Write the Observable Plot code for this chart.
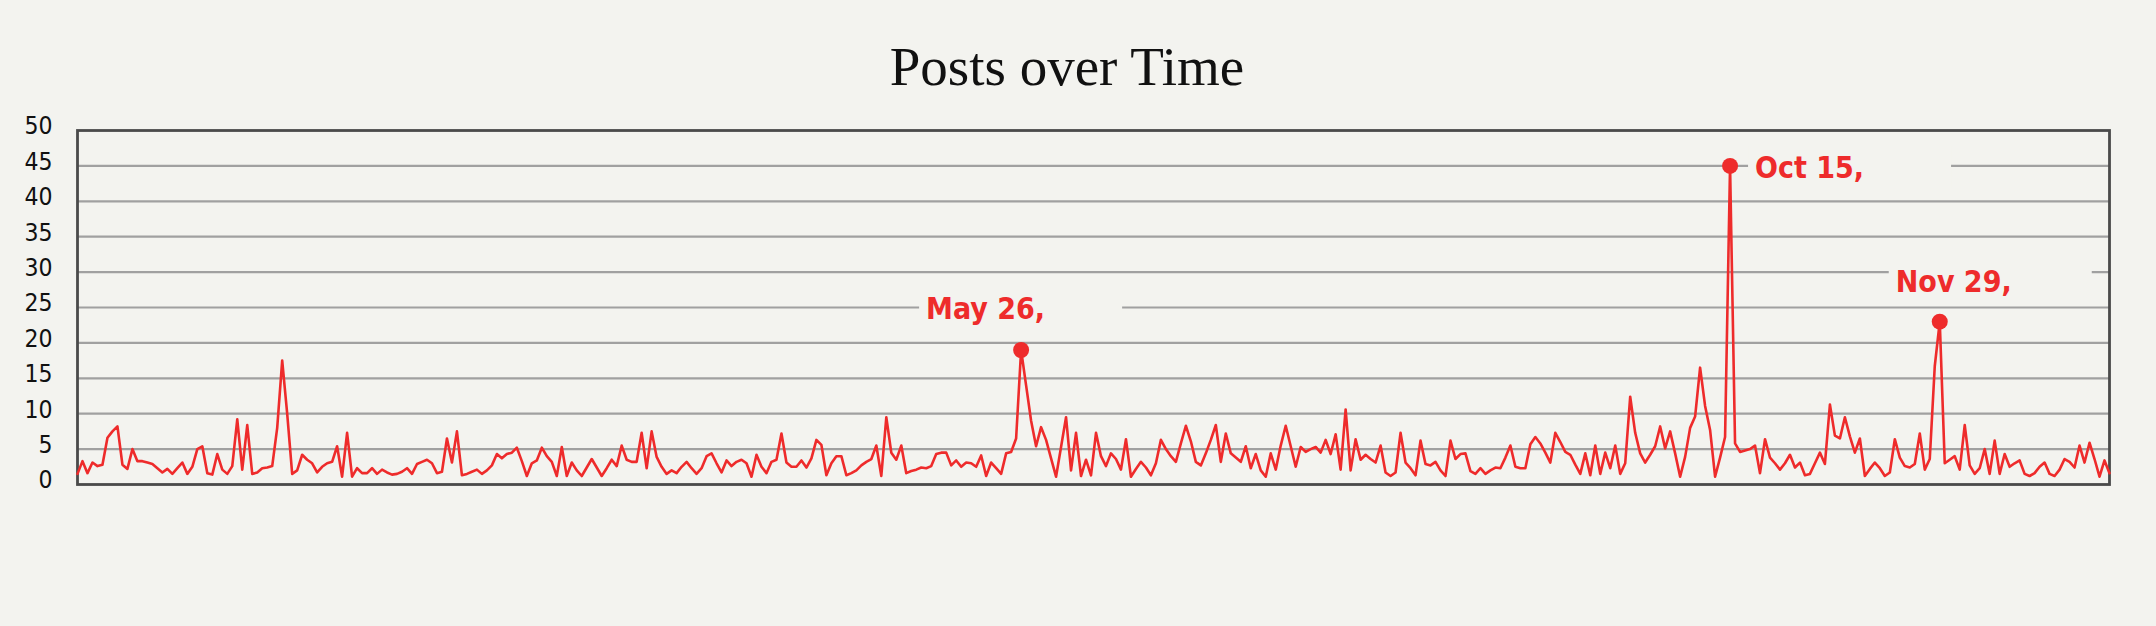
<!DOCTYPE html>
<html>
<head>
<meta charset="utf-8">
<script src="https://cdn.jsdelivr.net/npm/d3@7"></script>
<script src="https://cdn.jsdelivr.net/npm/@observablehq/plot@0.6"></script>
<style>
  html, body { margin: 0; padding: 0; background: #f3f3ef; }
  #title {
    width: 2156px; height: 100px; box-sizing: border-box;
    padding-top: 39px; padding-right: 22px; text-align: center;
    font-family: "Liberation Serif", "Times New Roman", serif;
    font-size: 55px; line-height: 1; color: #111;
  }
</style>
</head>
<body>
<div id="title">Posts over Time</div>
<div id="chart"></div>
<script>
// ---------------- data ----------------
const startDate = "2018-11-16";
// days absent from the series (no posts recorded)
const noPostDays = ["2019-01-03", "2019-04-11", "2019-10-22", "2019-11-05", "2019-11-13", "2019-12-10"];

// posts per day (one value per recorded day, in order)
const posts = [
  1.5, 3.3, 1.6, 3.1, 2.6, 2.8, 6.6, 7.5, 8.2, 2.8,
  2.2, 5.0, 3.3, 3.3, 3.1, 2.9, 2.3, 1.7, 2.2, 1.5,
  2.3, 3.1, 1.5, 2.5, 5.0, 5.4, 1.6, 1.4, 4.3, 2.1,
  1.5, 2.6, 9.2, 2.1, 8.4, 1.5, 1.7, 2.3, 2.4, 2.6,
  8.0, 17.5, 10.0, 1.5, 2.0, 4.2, 3.5, 3.0, 1.7,
  2.5, 3.0, 3.2, 5.4, 1.1, 7.3, 1.1, 2.3, 1.6, 1.6,
  2.3, 1.5, 2.1, 1.7, 1.4, 1.5, 1.8, 2.3, 1.5, 2.9,
  3.2, 3.5, 3.0, 1.6, 1.8, 6.5, 3.1, 7.5, 1.3, 1.5,
  1.8, 2.1, 1.5, 2.0, 2.7, 4.3, 3.7, 4.3, 4.5, 5.2,
  3.3, 1.2, 3.0, 3.4, 5.2, 4.0, 3.2, 1.2, 5.3, 1.2,
  3.1, 2.0, 1.2, 2.4, 3.6, 2.4, 1.2, 2.3, 3.5, 2.6,
  5.5, 3.5, 3.2, 3.2, 7.3, 2.3, 7.5, 3.9, 2.5, 1.5,
  2.0, 1.6, 2.5, 3.2, 2.3, 1.5, 2.3, 4.0, 4.4, 3.0,
  1.7, 3.4, 2.6, 3.2, 3.5, 3.0, 1.1, 4.2, 2.5, 1.6,
  3.2, 3.5, 7.2, 3.1, 2.5, 2.5, 3.4, 2.4, 3.7,
  6.3, 5.6, 1.3, 3.0, 4.0, 4.0, 1.3, 1.6, 2.0, 2.7,
  3.2, 3.6, 5.5, 1.2, 9.5, 4.5, 3.5, 5.5, 1.6, 1.9,
  2.1, 2.4, 2.3, 2.6, 4.3, 4.5, 4.5, 2.7, 3.4, 2.5,
  3.1, 3.0, 2.5, 4.1, 1.2, 3.1, 2.3, 1.5, 4.4, 4.6,
  6.5, 19.0, 14.0, 9.0, 5.4, 8.1, 6.3, 3.7, 1.1, 5.3,
  9.5, 2.0, 7.3, 1.2, 3.5, 1.3, 7.3, 4.0, 2.6, 4.4,
  3.6, 2.1, 6.4, 1.1, 2.2, 3.2, 2.4, 1.3, 3.0, 6.3,
  5.0, 4.0, 3.2, 5.8, 8.3, 6.1, 3.2, 2.7, 4.4, 6.3,
  8.4, 3.2, 7.2, 4.4, 3.8, 3.2, 5.4, 2.3, 4.3, 2.0,
  1.1, 4.4, 2.1, 5.5, 8.3, 5.4, 2.5, 5.3, 4.6, 5.0,
  5.3, 4.5, 6.3, 4.3, 7.1, 2.1, 10.6, 2.0, 6.4, 3.5,
  4.2, 3.6, 3.1, 5.5, 1.7, 1.2, 1.7, 7.3, 3.1, 2.3,
  1.3, 6.2, 2.9, 2.7, 3.2, 2.0, 1.2, 6.2, 3.6, 4.3,
  4.4, 1.9, 1.5, 2.3, 1.5, 2.0, 2.4, 2.3, 3.8, 5.5,
  2.5, 2.3, 2.3, 5.7, 6.7, 5.8, 4.5, 3.1, 7.3, 6.0,
  4.6, 4.2, 2.8, 1.5, 4.4, 1.3, 5.5, 1.5, 4.5, 2.3,
  5.5, 1.5, 3.0, 12.4, 7.3, 4.4, 3.1, 4.2, 5.4, 8.2,
  5.1, 7.5, 4.4, 1.1, 3.9, 8.0, 9.6, 16.5, 11.1, 7.7,
  1.1, 3.8, 6.7, 45.0, 5.8, 4.6, 4.8, 5.0, 5.5, 1.6,
  6.4, 3.8, 3.0, 2.1, 3.0, 4.2, 2.4, 3.1, 1.3,
  1.5, 3.0, 4.5, 2.9, 11.3, 6.9, 6.5, 9.5, 6.8,
  4.5, 6.5, 1.2, 2.2, 3.1, 2.3, 1.2, 1.7, 6.4,
  3.8, 2.6, 2.4, 2.9, 7.2, 2.1, 3.6, 16.7, 23.0, 3.0,
  3.5, 4.0, 2.1, 8.4, 2.7, 1.5, 2.3, 5.0, 1.5,
  6.2, 1.5, 4.3, 2.5, 3.0, 3.4, 1.5, 1.2, 1.6, 2.5,
  3.1, 1.5, 1.2, 2.1, 3.6, 3.2, 2.4, 5.5, 3.1, 5.9,
  3.6, 1.1, 3.4, 1.6
];

const yTicks = [0, 5, 10, 15, 20, 25, 30, 35, 40, 45, 50];

const highlightDates = ["2019-05-26", "2019-10-15", "2019-11-29"];
const highlightLabels = ["May 26,", "Oct 15,", "Nov 29,"];

// ---------------- style ----------------
const BG = "#f3f3ef";
const RED = "#ee2b2b";
const SANS = "'DejaVu Sans Condensed', 'DejaVu Sans', Verdana, sans-serif";
// label placement relative to its point (text start / baseline), px
const labelPlacement = [
  {dx: -95, dy: -31},
  {dx: 25, dy: 12},
  {dx: -44, dy: -30}
];
const boxPad = {left: 7, width: 203, above: 32, below: 10};

// ---------------- table ----------------
const fmt = d3.utcFormat("%Y-%m-%d");
const skip = new Set(noPostDays);
const dates = [];
for (let k = 0; dates.length < posts.length; k++) {
  const s = fmt(d3.utcDay.offset(new Date(startDate + "T00:00:00Z"), k));
  if (!skip.has(s)) dates.push(s);
}
const rows = posts.map((v, i) => ({i, date: dates[i], posts: v}));
const highlights = highlightDates.map((d, k) => {
  const i = dates.indexOf(d);
  return {i, posts: posts[i], label: highlightLabels[k]};
});

const boxSymbol = (p) => ({
  draw(ctx) {
    ctx.rect(p.dx - boxPad.left, p.dy - boxPad.above, boxPad.width, boxPad.above + boxPad.below);
  }
});

const boxMarks = highlights.map((h, k) =>
  Plot.dot([h], {x: "i", y: "posts", symbol: boxSymbol(labelPlacement[k]), r: 1, fill: BG, stroke: "none"})
);
const labelMarks = highlights.map((h, k) =>
  Plot.text([h], {
    x: "i", y: "posts", text: "label",
    dx: labelPlacement[k].dx, dy: labelPlacement[k].dy,
    textAnchor: "start", lineAnchor: "bottom",
    fill: RED, fontWeight: "bold", fontSize: 30, fontFamily: SANS
  })
);

const chart = Plot.plot({
  width: 2156,
  height: 526,
  marginTop: 30,
  marginBottom: 142,
  marginLeft: 77,
  marginRight: 47,
  style: {background: "transparent", overflow: "visible"},
  x: {domain: [0, posts.length - 1], axis: null},
  y: {domain: [0, 50]},
  marks: [
    Plot.ruleY(yTicks.filter((t) => t > 0 && t < 50), {stroke: "#a0a0a0", strokeWidth: 2.2}),
    ...boxMarks,
    Plot.frame({stroke: "#4a4a4a", strokeWidth: 2.8}),
    Plot.axisY(yTicks, {
      tickSize: 0, tickPadding: 25, fontSize: 24.5, fontFamily: SANS,
      fill: "#111", dy: -4, label: null
    }),
    Plot.line(rows, {x: "i", y: "posts", stroke: RED, strokeWidth: 2.6}),
    ...labelMarks,
    Plot.dot(highlights, {x: "i", y: "posts", r: 8, fill: RED})
  ]
});
document.getElementById("chart").appendChild(chart);
</script>
</body>
</html>
